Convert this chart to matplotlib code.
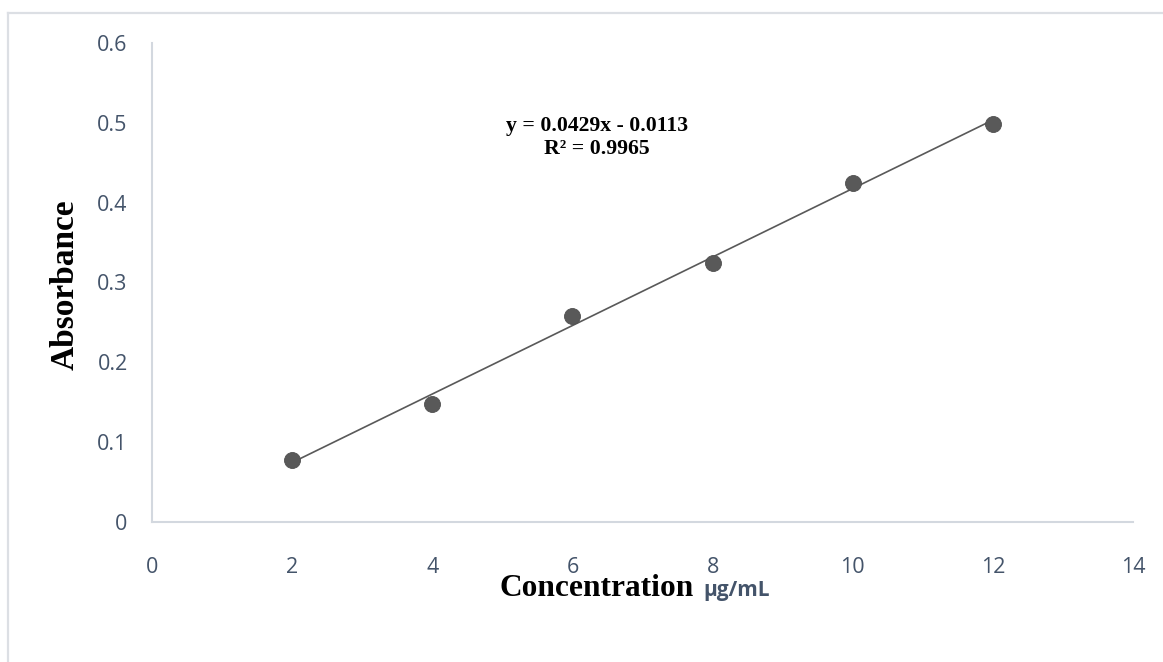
"""
Calibration curve: absorbance vs concentration with linear trendline.
"""

import matplotlib
matplotlib.use("Agg")
import matplotlib.pyplot as plt
from matplotlib.lines import Line2D
import numpy as np

# data
conc = [2, 4, 6, 8, 10, 12]
absorb = [0.078, 0.148, 0.258, 0.325, 0.425, 0.498]
x_ticks = [0, 2, 4, 6, 8, 10, 12, 14]
y_ticks = [0, 0.1, 0.2, 0.3, 0.4, 0.5, 0.6]
y_tick_labels = ["0", "0.1", "0.2", "0.3", "0.4", "0.5", "0.6"]
slope, intercept = 0.0429, -0.0113
eq_text = "y = 0.0429x - 0.0113\nR² = 0.9965"

C_MARK = "#595959"
C_AXIS = "#d3d8df"
C_TICK = "#44546A"
C_FRAME = "#dcdfe4"

W, H = 1163, 662


def main():
    fig = plt.figure(figsize=(W / 100, H / 100), dpi=100)
    ax = fig.add_axes([152 / W, 1 - 522 / H, (1133 - 152) / W, (522 - 43) / H])

    # outer chart frame (only top and left edges visible)
    fig.add_artist(Line2D([8 / W, 1.0], [1 - 13 / H, 1 - 13 / H],
                          color=C_FRAME, lw=1.6, transform=fig.transFigure))
    fig.add_artist(Line2D([8 / W, 8 / W], [1 - 13 / H, 0.0],
                          color=C_FRAME, lw=1.6, transform=fig.transFigure))

    xs = np.array([min(conc), max(conc)])
    ax.plot(xs, slope * xs + intercept, color=C_MARK, lw=1.2, zorder=2)
    ax.plot(conc, absorb, "o", color=C_MARK, markersize=11.5,
            markeredgecolor="#505050", markeredgewidth=0.6, zorder=3)

    ax.set_xlim(0, 14)
    ax.set_ylim(0, 0.6)
    ax.set_xticks(x_ticks)
    ax.set_yticks(y_ticks)
    ax.set_yticklabels(y_tick_labels)
    ax.tick_params(length=0, labelsize=15.5, labelcolor=C_TICK)
    ax.tick_params(axis="y", pad=17.5)
    ax.tick_params(axis="x", pad=25.5)
    for lab in ax.get_xticklabels() + ax.get_yticklabels():
        lab.set_family("Open Sans")

    for side in ("top", "right"):
        ax.spines[side].set_visible(False)
    for side in ("left", "bottom"):
        ax.spines[side].set_color(C_AXIS)
        ax.spines[side].set_linewidth(1.5)

    ax.text(597 / W, 1 - 137 / H, eq_text, transform=fig.transFigure,
            ha="center", va="center", fontsize=15.7, fontweight="bold",
            family="Liberation Serif", linespacing=1.2)

    fig.text(65 / W, 1 - 285 / H, "Absorbance", rotation=90,
             ha="center", va="center", fontsize=24, fontweight="bold",
             family="Liberation Serif")
    fig.text(694 / W, 1 - 596 / H, "Concentration", ha="right", va="baseline",
             fontsize=22.6, fontweight="bold", family="Liberation Serif")
    fig.text(703 / W, 1 - 596 / H, "µg/mL", ha="left", va="baseline",
             fontsize=15, fontweight="bold", family="Open Sans", color=C_TICK)

    fig.savefig("out.png", dpi=100, facecolor="white")
    plt.close(fig)


if __name__ == "__main__":
    main()
